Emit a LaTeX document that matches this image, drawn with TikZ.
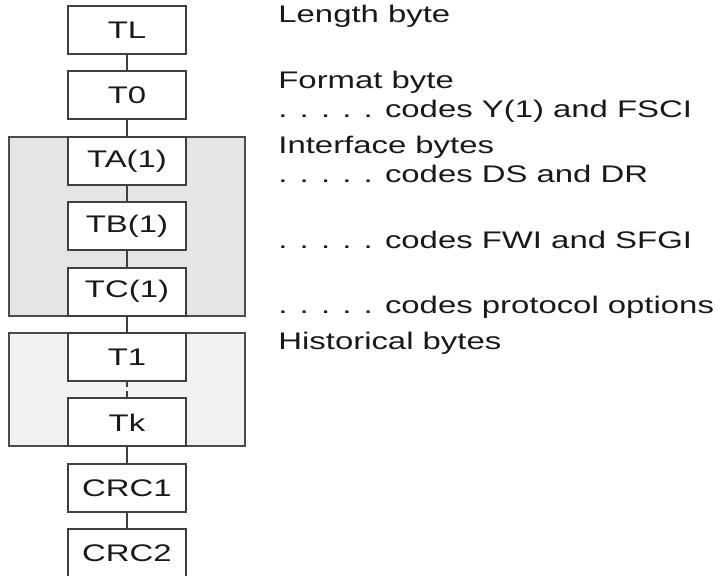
\documentclass[tikz,border=0pt]{standalone}
\usepackage{fontspec}
\setmainfont{Liberation Sans}[FakeStretch=1.37]
\usetikzlibrary{positioning,fit,backgrounds}

\begin{document}
\begin{tikzpicture}[node distance=8.7pt,
    byte/.style={draw=black!75, line width=1pt, fill=white, minimum width=59pt, minimum height=24pt, inner sep=0pt, outer sep=0pt, text=black!90, font=\fontsize{12}{15}\selectfont},
    group/.style={draw=black!70, line width=1pt, inner xsep=29.5pt, inner ysep=0pt},
    lbl/.style={anchor=base west, inner sep=0pt, text=black!90, font=\fontsize{12}{15}\selectfont},
    link/.style={draw=black!75, line width=1pt}]
    \useasboundingbox (-63.5pt,15pt) rectangle (294pt,-273pt);
    \node[byte] (tl) {TL};
    \node[byte, below=of tl] (t0) {T0};
    \node[byte, below=of t0] (ta) {TA(1)};
    \node[byte, below=of ta] (tb) {TB(1)};
    \node[byte, below=of tb] (tc) {TC(1)};
    \node[byte, below=of tc] (t1) {T1};
    \node[byte, below=of t1] (tk) {Tk};
    \node[byte, below=of tk] (crc1) {CRC1};
    \node[byte, below=of crc1] (crc2) {CRC2};
    \begin{scope}[on background layer]
      \node[group, fill=black!10, fit=(ta)(tc)] (iface) {};
      \node[group, fill=black!5, fit=(t1)(tk)] (hist) {};
    \end{scope}
    \draw[link] (tl) -- (t0);
    \draw[link] (t0) -- (ta);
    \draw[link] (ta) -- (tb);
    \draw[link] (tb) -- (tc);
    \draw[link] (tc) -- (t1);
    \draw[link, dash pattern=on 3pt off 2pt] (t1) -- (tk);
    \draw[link] (tk) -- (crc1);
    \draw[link] (crc1) -- (crc2);
    % descriptions on the right
    \node[lbl] (lenlbl) at ([xshift=46pt, yshift=-8.5pt]tl.north east) {Length byte};
    \node[lbl] (fmtlbl) at ([xshift=46pt, yshift=-8.5pt]t0.north east) {Format byte};
    \node[lbl] (fmtcode) at ([xshift=46pt, yshift=1pt]t0.south east) {. . . . . codes Y(1) and FSCI};
    \node[lbl] (ifclbl) at ([xshift=46pt, yshift=-8.5pt]ta.north east) {Interface bytes};
    \node[lbl] (tacode) at ([xshift=46pt, yshift=1pt]ta.south east) {. . . . . codes DS and DR};
    \node[lbl] (tbcode) at ([xshift=46pt, yshift=1pt]tb.south east) {. . . . . codes FWI and SFGI};
    \node[lbl] (tccode) at ([xshift=46pt, yshift=1pt]tc.south east) {. . . . . codes protocol options};
    \node[lbl] (histlbl) at ([xshift=46pt, yshift=-8.5pt]t1.north east) {Historical bytes};
\end{tikzpicture}
\end{document}
